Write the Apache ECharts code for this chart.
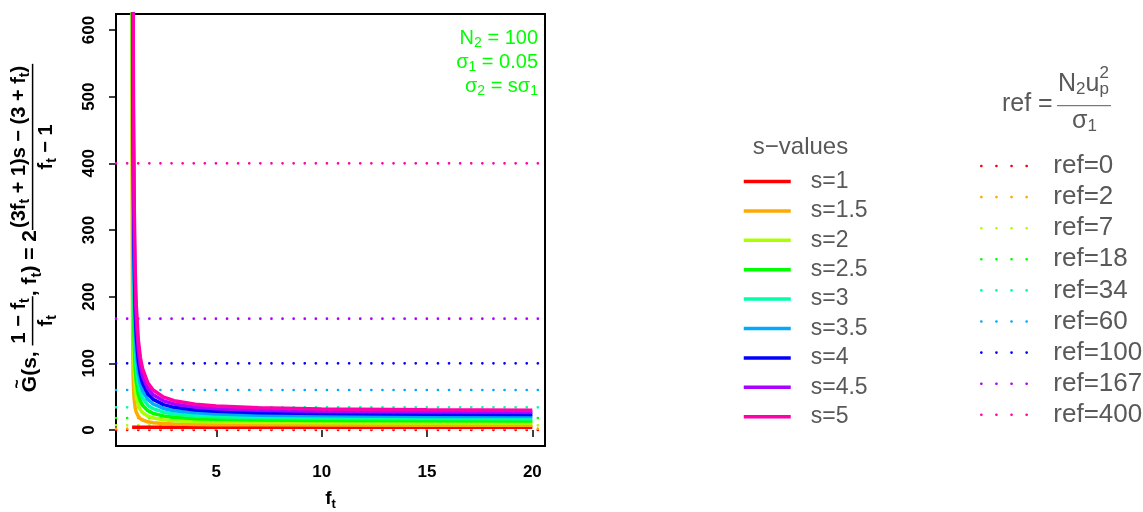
<!DOCTYPE html>
<html><head><meta charset="utf-8">
<script src="https://cdn.jsdelivr.net/npm/echarts@6/dist/echarts.min.js"></script>
<style>html,body{margin:0;padding:0;background:#fff}#c{width:1143px;height:512px}</style>
</head><body><div id="c"></div>
<script>
// ---------- data ----------
const fValues = [1.005, 1.01, 1.02, 1.03, 1.05, 1.07, 1.1, 1.15, 1.2, 1.3, 1.4, 1.5, 1.75, 2, 2.5, 3, 4, 5, 7, 10, 15, 20];
const gS1   = [4, 4, 4, 4, 4, 4, 4, 4, 4, 4, 4, 4, 4, 4, 4, 4, 4, 4, 4, 4, 4, 4];
const gS1_5 = [807, 407, 207, 140.3, 87, 64.1, 47, 33.7, 27, 20.3, 17, 15, 12.3, 11, 9.7, 9, 8.3, 8, 7.7, 7.4, 7.3, 7.2];
const gS2   = [1610, 810, 410, 276.7, 170, 124.3, 90, 63.3, 50, 36.7, 30, 26, 20.7, 18, 15.3, 14, 12.7, 12, 11.3, 10.9, 10.6, 10.4];
const gS2_5 = [2413, 1213, 613, 413, 253, 184.4, 133, 93, 73, 53, 43, 37, 29, 25, 21, 19, 17, 16, 15, 14.3, 13.9, 13.6];
const gS3   = [3216, 1616, 816, 549.3, 336, 244.6, 176, 122.7, 96, 69.3, 56, 48, 37.3, 32, 26.7, 24, 21.3, 20, 18.7, 17.8, 17.1, 16.8];
const gS3_5 = [4019, 2019, 1019, 685.7, 419, 304.7, 219, 152.3, 119, 85.7, 69, 59, 45.7, 39, 32.3, 29, 25.7, 24, 22.3, 21.2, 20.4, 20.1];
const gS4   = [4822, 2422, 1222, 822, 502, 364.9, 262, 182, 142, 102, 82, 70, 54, 46, 38, 34, 30, 28, 26, 24.7, 23.7, 23.3];
const gS4_5 = [5625, 2825, 1425, 958.3, 585, 425, 305, 211.7, 165, 118.3, 95, 81, 62.3, 53, 43.7, 39, 34.3, 32, 29.7, 28.1, 27, 26.5];
const gS5   = [6428, 3228, 1628, 1094.7, 668, 485.2, 348, 241.3, 188, 134.7, 108, 92, 70.7, 60, 49.3, 44, 38.7, 36, 33.3, 31.6, 30.3, 29.7];
const sLabels = ['s=1', 's=1.5', 's=2', 's=2.5', 's=3', 's=3.5', 's=4', 's=4.5', 's=5'];
const refValues = [0, 2, 7, 18, 34, 60, 100, 167, 400];
const refLabels = ['ref=0', 'ref=2', 'ref=7', 'ref=18', 'ref=34', 'ref=60', 'ref=100', 'ref=167', 'ref=400'];
const palette = ['#FF0000', '#FFAA00', '#AAFF00', '#00FF00', '#00FFAA', '#00AAFF', '#0000FF', '#AA00FF', '#FF00AA'];
const xTicks = [5, 10, 15, 20];
const yTicks = [0, 100, 200, 300, 400, 500, 600];
const xRange = [0.24, 20.6];
const yRange = [-24, 624];

// ---------- helpers ----------
const FONT = '"Liberation Sans", Arial, Helvetica, sans-serif';
const GREY = '#595959';
const mctx = document.createElement('canvas').getContext('2d');
function tw(t, size, bold) { mctx.font = (bold ? 'bold ' : '') + size + 'px ' + FONT; return mctx.measureText(t).width; }
function txt(t, x, y, size, bold, color, align) {
  return { type: 'text', x: x, y: y, silent: true,
    style: { text: t, fontSize: size, fontWeight: bold ? 'bold' : 'normal', fontFamily: FONT,
      fill: color, align: align || 'left', verticalAlign: 'middle' } };
}
function layRun(tokens, x, y, bold, color, out) {
  let cx = x;
  tokens.forEach(tk => { out.push(txt(tk[0], cx, y + (tk[2] || 0), tk[1], bold, color)); cx += tw(tk[0], tk[1], bold); });
  return cx - x;
}
function runWidth(tokens, bold) { return tokens.reduce((a, tk) => a + tw(tk[0], tk[1], bold), 0); }
function layFrac(num, den, x, y, bold, color, out, numOff, denOff, lw) {
  const nw = runWidth(num, bold), dw = runWidth(den, bold);
  const W = Math.max(nw, dw) + 4;
  layRun(num, x + (W - nw) / 2, y - numOff, bold, color, out);
  layRun(den, x + (W - dw) / 2, y + denOff, bold, color, out);
  out.push({ type: 'line', silent: true, shape: { x1: x, y1: y, x2: x + W, y2: y }, style: { stroke: color, lineWidth: lw } });
  return W;
}

// ---------- y-axis title (math) ----------
const M = 21, S = 15, F = 20, FS = 14, BAR = 2;
const yl = [];
let cx = 0;
cx += layRun([['G', M, 0]], cx, 0, true, '#000', yl);
yl.push(txt('~', tw('G', M, true) / 2, -M * 0.62, 16, true, '#000', 'center'));
cx += layRun([['(s, ', M, 0]], cx, 0, true, '#000', yl);
cx += layFrac([['1 − f', F, 0], ['t', FS, 6]], [['f', F, 0], ['t', FS, 6]], cx, BAR, true, '#000', yl, 13, 14, 1.5);
cx += layRun([[', f', M, 0], ['t', S, 6], [') = 2', M, 0]], cx, 0, true, '#000', yl);
cx += layFrac([['(3f', F, 0], ['t', FS, 6], [' + 1)s − (3 + f', F, 0], ['t', FS, 6], [')', F, 0]],
              [['f', F, 0], ['t', FS, 6], [' − 1', F, 0]], cx, BAR, true, '#000', yl, 13, 14, 1.5);
const yLabelW = cx;

// ---------- other texts ----------
const g = [];
g.push({ type: 'group', x: 30.6, y: 228 + yLabelW / 2, rotation: Math.PI / 2, children: yl });
{
  const arr = [];
  const w = runWidth([['f', 19], ['t', 13]], true);
  layRun([['f', 19, 0], ['t', 13, 5]], 330.5 - w / 2, 499, true, '#000', arr);
  g.push(...arr);
}
{
  const GR = '#00FF00', Z = 20, ZS = 14;
  const l1 = [['N', Z, 0], ['2', ZS, 5], [' = 100', Z, 0]];
  const l2 = [['σ', Z, 0], ['1', ZS, 5], [' = 0.05', Z, 0]];
  const l3 = [['σ', Z, 0], ['2', ZS, 5], [' = sσ', Z, 0], ['1', ZS, 5]];
  [[l1, 38], [l2, 62], [l3, 86]].forEach(([l, y]) => { layRun(l, 538 - runWidth(l, false), y, false, GR, g); });
}
g.push(txt('s−values', 800.5, 147, 24, false, GREY, 'center'));
g.push(txt('ref =', 1002, 104.5, 25, false, GREY, 'left'));
{
  let x = 1058;
  x += layRun([['N', 25, 0], ['2', 17, 5], ['u', 25, 0]], x, 84, false, GREY, g);
  g.push(txt('2', x, 73, 17, false, GREY));
  g.push(txt('p', x, 89, 17, false, GREY));
  g.push({ type: 'line', silent: true, shape: { x1: 1057, y1: 105.7, x2: 1111, y2: 105.7 }, style: { stroke: GREY, lineWidth: 1 } });
  layRun([['σ', 25, 0], ['1', 17, 5]], 1072, 121.5, false, GREY, g);
}

// ---------- series ----------
const sCurves = [gS1, gS1_5, gS2, gS2_5, gS3, gS3_5, gS4, gS4_5, gS5];
const refSeries = refValues.map((v, i) => ({
  name: refLabels[i], type: 'line', silent: true, symbol: 'none', showSymbol: false,
  data: [[xRange[0], v], [xRange[1], v]],
  lineStyle: { width: 2.6, color: palette[i], type: [0.1, 11], cap: 'round' },
  itemStyle: { color: palette[i] }
}));
const sSeries = sCurves.map((arr, i) => ({
  name: sLabels[i], type: 'line', silent: true, symbol: 'none', showSymbol: false, clip: true,
  data: fValues.map((f, j) => [f, arr[j]]),
  lineStyle: { width: 3.5, color: palette[i] },
  itemStyle: { color: palette[i] }
}));

const chart = echarts.init(document.getElementById('c'));
chart.setOption({
  backgroundColor: '#fff',
  animation: false,
  grid: { left: 116, right: 598, top: 14, bottom: 66, show: true, borderColor: '#000', borderWidth: 2, backgroundColor: 'transparent' },
  xAxis: {
    type: 'value', min: xRange[0], max: xRange[1],
    axisLine: { show: false }, splitLine: { show: false },
    axisTick: { show: true, length: 7, customValues: xTicks, lineStyle: { color: '#000', width: 1.5 } },
    axisLabel: { customValues: xTicks, margin: 18, fontSize: 17, fontWeight: 'bold', fontFamily: FONT, color: '#000' }
  },
  yAxis: {
    type: 'value', min: yRange[0], max: yRange[1],
    axisLine: { show: false }, splitLine: { show: false },
    axisTick: { show: true, length: 7, customValues: yTicks, lineStyle: { color: '#000', width: 1.5 } },
    axisLabel: { customValues: yTicks, rotate: 90, margin: 18, fontSize: 17, fontWeight: 'bold', fontFamily: FONT, color: '#000' }
  },
  legend: [
    { data: sLabels, orient: 'vertical', left: 742, top: 169.5, padding: 0, itemWidth: 47, itemHeight: 14, itemGap: 5.4,
      selectedMode: false, itemStyle: { opacity: 0 }, lineStyle: { width: 3.5 },
      textStyle: { fontSize: 23, lineHeight: 24, color: GREY, fontFamily: FONT, padding: [0, 0, 0, 15] } },
    { data: refLabels, orient: 'vertical', left: 980, top: 153, padding: 0, itemWidth: 46, itemHeight: 14, itemGap: 5.1,
      selectedMode: false, itemStyle: { opacity: 0 }, lineStyle: { width: 2.6, type: [0.1, 15], cap: 'round' },
      textStyle: { fontSize: 26, lineHeight: 26, color: GREY, fontFamily: FONT, padding: [0, 0, 0, 21] } }
  ],
  graphic: g,
  series: refSeries.concat(sSeries)
});
</script>
</body></html>
